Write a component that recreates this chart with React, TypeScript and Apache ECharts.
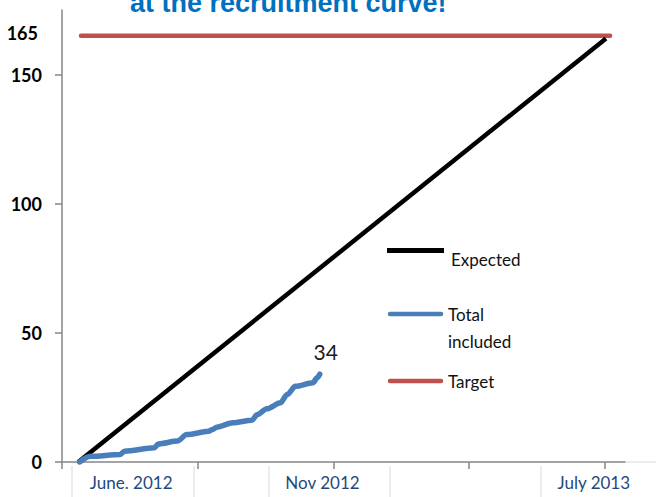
import React, { useEffect, useRef } from "react";
import * as echarts from "echarts";

// ---- data ----
const titleText = "at the recruitment curve!";

const yLabelValues = [0, 50, 100, 150, 165];
const yTickValues = [0, 50, 100, 150];

// x axis in days (abstract time index)
const xTickValues = [0, 100, 200, 300, 400];
const xLabelValues = [51, 192, 392];
const xLabelTexts = ["June. 2012", "Nov 2012", "July 2013"];

const totalX = [13, 21, 43, 46, 68, 71, 85, 92, 108, 111, 114, 126, 140, 144, 151, 161, 166, 172, 185, 188, 190];
const totalY = [0, 2.2, 2.9, 4.2, 5.5, 7, 8.1, 10.6, 11.9, 12.6, 13.5, 15.2, 16.2, 18.4, 20.6, 22.9, 26.1, 29.3, 30.7, 32.6, 34];

const expectedX = [12, 401];
const expectedY = [0, 164];

const targetX = [14, 404];
const targetY = [165, 165];

const legendNames = ["Expected", "Total\nincluded", "Target"];
const colors = { expected: "#000000", total: "#4A7EBB", target: "#C0504D" };

export default function App() {
  const ref = useRef<HTMLDivElement>(null);

  useEffect(() => {
    if (!ref.current) return;
    const chart = echarts.init(ref.current, null, { renderer: "svg" });
    const last = totalX.length - 1;
    const totalData = totalX.map((x, i) =>
      i === last
        ? {
            value: [x, totalY[i]],
            label: {
              show: true,
              position: "top",
              distance: 12,
              offset: [6, 0],
              formatter: String(totalY[i]),
              fontFamily: "Lato",
              fontSize: 21,
              color: "#1a1a1a",
            },
          }
        : [x, totalY[i]]
    );

    const font = "Lato";
    chart.setOption({
      animation: false,
      backgroundColor: "#ffffff",
      grid: { left: 62, right: 31, top: 10, bottom: 35, containLabel: false },
      xAxis: {
        type: "value",
        min: 0,
        max: 415,
        splitLine: { show: false },
        axisLine: { show: true, lineStyle: { color: "#868686", width: 1.5 } },
        axisTick: {
          show: true,
          length: 7,
          customValues: xTickValues,
          lineStyle: { color: "#868686", width: 1.5 },
        },
        axisLabel: {
          show: true,
          customValues: xLabelValues,
          formatter: (v: number) => {
            const idx = xLabelValues.indexOf(v);
            return idx >= 0 ? xLabelTexts[idx] : "";
          },
          margin: 12,
          fontFamily: font,
          fontSize: 17,
          color: "#1F497D",
        },
      },
      yAxis: {
        type: "value",
        min: 0,
        max: 175,
        splitLine: { show: false },
        axisLine: { show: true, lineStyle: { color: "#868686", width: 1.5 } },
        axisTick: {
          show: true,
          length: 7,
          customValues: yTickValues,
          lineStyle: { color: "#868686", width: 1.5 },
        },
        axisLabel: {
          show: true,
          customValues: yLabelValues,
          margin: 20,
          formatter: (v: number) => (v === 165 ? "{t|165}" : String(v)),
          fontFamily: font,
          fontSize: 18,
          fontWeight: "bold",
          color: "#000000",
          rich: {
            t: {
              fontFamily: font,
              fontSize: 18,
              fontWeight: "bold",
              color: "#000000",
              padding: [0, 4, 5, 0],
            },
          },
        },
      },
      series: [
        {
          name: "Expected",
          type: "line",
          data: expectedX.map((x, i) => [x, expectedY[i]]),
          showSymbol: false,
          symbol: "none",
          lineStyle: { color: colors.expected, width: 4.5, cap: "butt" },
          z: 3,
        },
        {
          name: "Total included",
          type: "line",
          data: totalData,
          showSymbol: true,
          symbol: "circle",
          symbolSize: 1,
          itemStyle: { color: "rgba(0,0,0,0)", borderWidth: 0 },
          smooth: 0.3,
          smoothMonotone: "x",
          lineStyle: { color: colors.total, width: 5.5, cap: "round", join: "round" },
          z: 4,
        },
        {
          name: "Target",
          type: "line",
          data: targetX.map((x, i) => [x, targetY[i]]),
          showSymbol: false,
          symbol: "none",
          lineStyle: { color: colors.target, width: 4.5, cap: "round" },
          z: 2,
        },
      ],
      graphic: [
        {
          type: "text",
          left: 130,
          top: -11,
          style: {
            text: titleText,
            fontFamily: "Liberation Sans",
            fontSize: 27,
            fontWeight: "bold",
            fill: "#0070C0",
          },
        },
        // legend
        {
          type: "line",
          shape: { x1: 387, y1: 250.5, x2: 444, y2: 250.5 },
          style: { stroke: colors.expected, lineWidth: 5, lineCap: "butt" },
        },
        {
          type: "text",
          x: 451,
          y: 259,
          style: {
            text: legendNames[0],
            fontFamily: font,
            fontSize: 17,
            fill: "#111",
            verticalAlign: "middle",
          },
        },
        {
          type: "line",
          shape: { x1: 390, y1: 314, x2: 441, y2: 314 },
          style: { stroke: colors.total, lineWidth: 4.5, lineCap: "round" },
        },
        {
          type: "text",
          x: 448,
          y: 300.5,
          style: {
            text: legendNames[1],
            fontFamily: font,
            fontSize: 17,
            lineHeight: 27,
            fill: "#111",
            verticalAlign: "top",
          },
        },
        {
          type: "line",
          shape: { x1: 390, y1: 381, x2: 441, y2: 381 },
          style: { stroke: colors.target, lineWidth: 4.5, lineCap: "round" },
        },
        {
          type: "text",
          x: 448,
          y: 381,
          style: {
            text: legendNames[2],
            fontFamily: font,
            fontSize: 17,
            fill: "#111",
            verticalAlign: "middle",
          },
        },
        // faint text-box edges below the axis
        ...[72, 194, 269, 390, 541].map((x) => ({
          type: "line",
          shape: { x1: x, y1: 466, x2: x, y2: 497 },
          style: { stroke: "#e6e6e6", lineWidth: 1.5 },
          silent: true,
        })),
        {
          type: "line",
          shape: { x1: 626, y1: 462, x2: 656, y2: 462 },
          style: { stroke: "#e6e6e6", lineWidth: 1.5 },
          silent: true,
        },
      ],
    });
    return () => chart.dispose();
  }, []);

  return (
    <div
      ref={ref}
      style={{ position: "fixed", left: 0, top: 0, width: 656, height: 497, background: "#fff" }}
    />
  );
}
